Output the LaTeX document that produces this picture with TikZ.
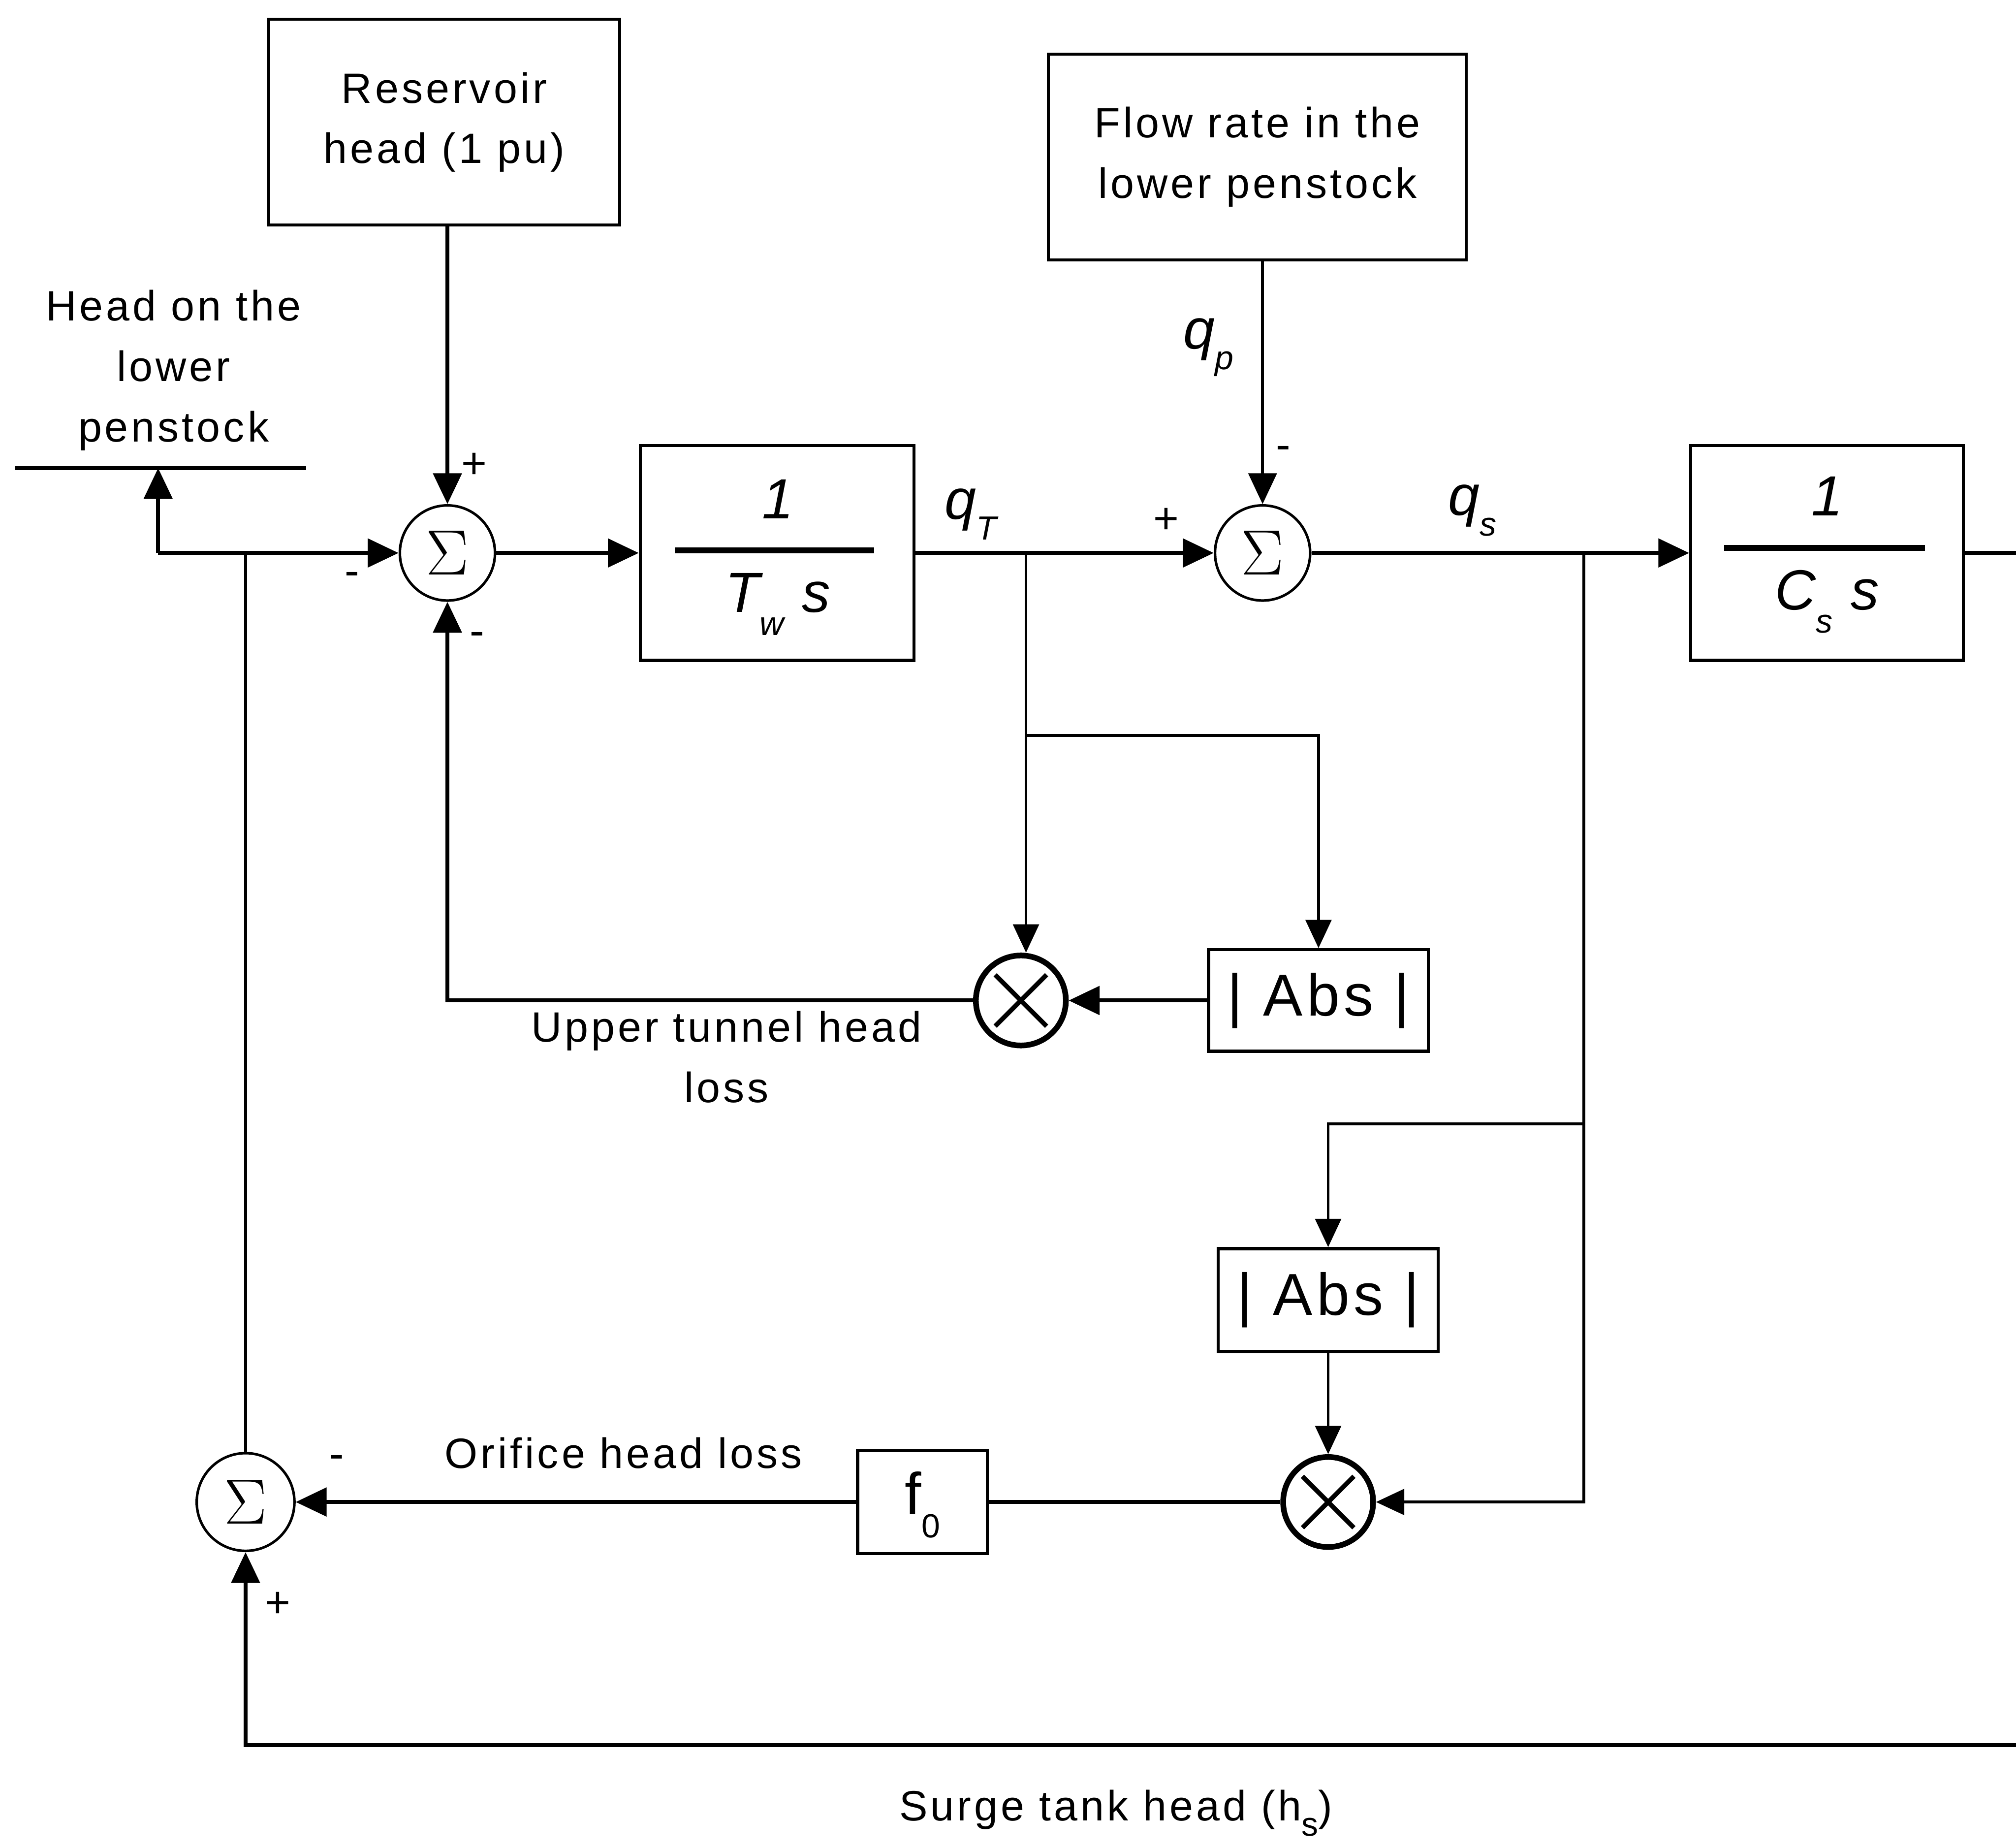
\documentclass[tikz,border=0pt]{standalone}
\usepackage{fontspec}
\setmainfont{Liberation Sans}
\newfontfamily\lblfont{Liberation Sans}[LetterSpace=7]
\newfontfamily\symfont{Liberation Serif}
\usetikzlibrary{arrows.meta,calc}
\newcommand{\sbx}[2][-7pt]{\raisebox{#1}{\fontsize{13}{13}\selectfont #2}}
\begin{document}
\begin{tikzpicture}[x=0.5pt,y=-0.5pt,
  lbl/.style={font=\lblfont\fontsize{16.5}{23.5}\selectfont, align=center, inner sep=0},
  mth/.style={font=\fontsize{22}{24}\selectfont\itshape, inner sep=0},
  sgn/.style={font=\fontsize{17}{17}\selectfont, inner sep=0},
  blk/.style={draw, line width=1.2pt, inner sep=0},
  sumc/.style={draw, circle, line width=1pt, minimum size=37pt, inner sep=0, font=\symfont\fontsize{24}{24}\selectfont},
  mulc/.style={draw, circle, line width=2.2pt, minimum size=35pt, inner sep=0},
  ln/.style={line width=1.5pt},
  thn/.style={line width=1.1pt},
  arr/.style={-{Triangle[length=12pt,width=11pt]}, line width=1.5pt},
  tarr/.style={-{Triangle[length=11pt,width=10pt]}, line width=1.1pt}
]
\useasboundingbox (0,0) rectangle (1568,1437);

% blocks
\node[blk, minimum width=136.5pt, minimum height=80pt, lbl] (res) at (345.5,95) {Reservoir\\head (1 pu)};
\node[blk, minimum width=162.5pt, minimum height=80pt, lbl] (flow) at (978,122) {Flow rate in the\\lower penstock};
\node[lbl] (hlbl) at (135,288) {Head on the\\lower\\penstock};
\coordinate (hl1) at (12,364);
\coordinate (hl2) at (238,364);
\draw[ln] (hl1) -- (hl2);

\node[sumc] (s1) at (348,430) {$\Sigma$};
\node[blk, minimum width=106.5pt, minimum height=83.5pt] (tw) at (604.5,430) {};
\node[sumc] (s2) at (982,430) {$\Sigma$};
\node[blk, minimum width=106pt, minimum height=83.5pt] (cs) at (1421,430) {};

\node[mulc] (m1) at (794,778) {};
\node[blk, minimum width=85.5pt, minimum height=39.5pt, font=\lblfont\fontsize{23}{23}\selectfont] (a1) at (1025.5,778) {| Abs |};
\node[blk, minimum width=85.5pt, minimum height=40pt, font=\lblfont\fontsize{23}{23}\selectfont] (a2) at (1033,1011) {| Abs |};
\node[mulc] (m2) at (1033,1168) {};
\node[blk, minimum width=50.5pt, minimum height=40pt] (f0) at (717.5,1168) {};
\node[sumc, minimum height=38pt] (s3) at (191,1168) {$\Sigma$};

% X marks
\foreach \m in {m1,m2}{
  \draw[line width=1.8pt] ($(\m.center)+(-20,-20)$) -- ($(\m.center)+(20,20)$);
  \draw[line width=1.8pt] ($(\m.center)+(-20,20)$) -- ($(\m.center)+(20,-20)$);
}

% fraction contents
\node[mth] (tw1) at (605,388) {1};
\draw[line width=2.2pt] (525,428) -- (680,428);
\node[mth] (tw2) at (605,470) {T\sbx[-9pt]{w}\hspace{7pt}s};
\node[mth] (cs1) at (1421,386) {1};
\draw[line width=2.2pt] (1341,426) -- (1497,426);
\node[mth] (cs2) at (1421,468) {C\sbx[-9pt]{s}\hspace{7pt}s};
\node[font=\fontsize{23}{24}\selectfont, inner sep=0] (f0t) at (717.5,1170) {f\sbx[-9pt]{0}};

% connectors
\coordinate (j0) at (123,430);
\draw[arr] (res.south -| s1) -- (s1.north);
\draw[arr] (j0) -- (s1.west);
\draw[arr] (j0) -- (j0 |- hl1);
\draw[arr] (s1.east) -- (tw.west);
\draw[arr] (tw.east) -- (s2.west);
\draw[thn,-{Triangle[length=12pt,width=11pt]}] (flow.south -| s2) -- (s2.north);
\draw[arr] (s2.east) -- (cs.west);
\coordinate (rend) at (1568,430);
\draw[ln] (cs.east) -- (rend);

\coordinate (jq) at (798,430);
\coordinate (jq2) at (798,572);
\draw[tarr] (jq) -- (jq |- m1.north);
\draw[tarr] (jq2) -| (a1.north);
\draw[arr] (a1.west) -- (m1.east);
\draw[ln,-{Triangle[length=12pt,width=11pt]}] (m1.west) -| (s1.south);

\coordinate (js) at (1232,430);
\coordinate (js2) at (1232,874);
\draw[tarr] (js) |- (m2.east);
\draw[tarr] (js2) -| (a2.north);
\draw[tarr] (a2.south) -- (m2.north);
\draw[ln] (m2.west) -- (f0.east);
\draw[arr] (f0.west) -- (s3.east);
\draw[thn] (s3.north) -- (s3.north |- j0);
\coordinate (bR) at (1568,1357);
\draw[ln,-{Triangle[length=12pt,width=11pt]}] (bR) -| (s3.south);

% signs and labels
\node[sgn] (p1) at (369,362) {+};
\node[sgn] (n1) at (274,450) {-};
\node[sgn] (n2) at (371,497) {-};
\node[sgn] (p2) at (907,405) {+};
\node[sgn] (n3) at (998,352) {-};
\node[sgn] (n4) at (262,1137) {-};
\node[sgn] (p3) at (216,1248) {+};
\node[mth] (qT) at (755,400) {q\sbx[-8pt]{T}};
\node[mth] (qp) at (940,270) {q\sbx[-8pt]{p}};
\node[mth] (qs) at (1145,397) {q\sbx[-8pt]{s}};
\node[lbl] (utl) at (565,822) {Upper tunnel head\\loss};
\node[lbl] (ohl) at (485,1130) {Orifice head loss};
\node[lbl] (sth) at (868,1410) {Surge tank head (h\sbx[-6pt]{s})};
\end{tikzpicture}
\end{document}
